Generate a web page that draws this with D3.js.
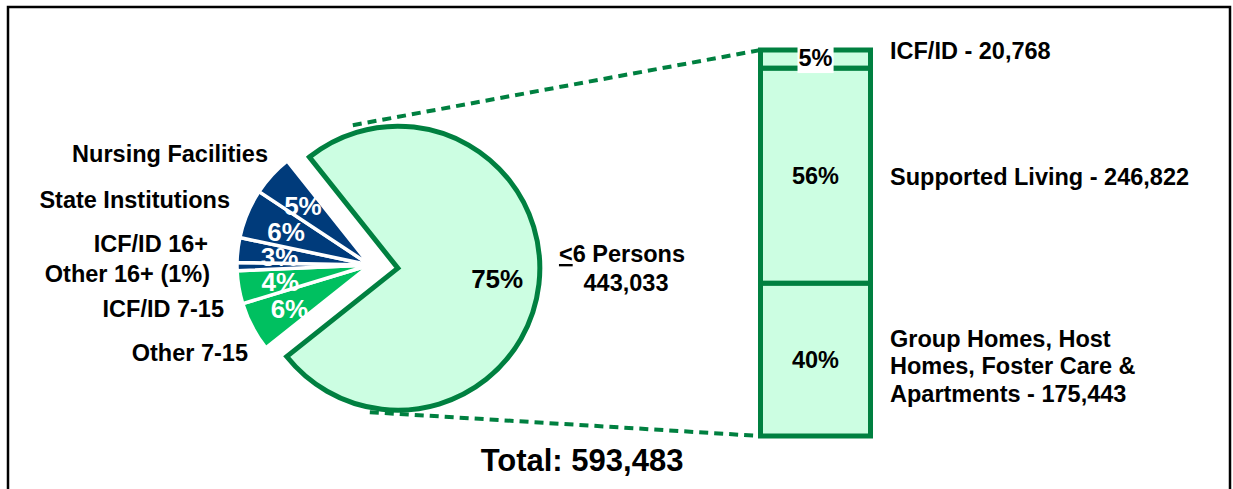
<!DOCTYPE html>
<html>
<head>
<meta charset="utf-8">
<script src="https://cdn.jsdelivr.net/npm/d3@7"></script>
<style>
body { margin: 0; background: #fff; }
text { font-family: "Liberation Sans", Arial, sans-serif; font-weight: bold; }
</style>
</head>
<body>
<div id="chart"></div>
<script>
var width = 1233;
var height = 489;

// pie data, clockwise starting with the big slice
var sliceNames = ["<6 Persons", "Other 7-15", "ICF/ID 7-15", "Other 16+", "ICF/ID 16+", "State Institutions", "Nursing Facilities"];
var sliceLabels = ["", "Other 7-15", "ICF/ID 7-15", "Other 16+ (1%)", "ICF/ID 16+", "State Institutions", "Nursing Facilities"];
var slicePct = [75, 6, 4, 1, 3, 6, 5];
var sliceValueText = ["75%", "6%", "4%", "", "3%", "6%", "5%"];

// bar data, bottom to top
var barNames = ["Group Homes, Host|Homes, Foster Care &|Apartments - 175,443", "Supported Living - 246,822", "ICF/ID - 20,768"];
var barValues = [175443, 246822, 20768];
var barPct = ["40%", "56%", "5%"];
var totalText = "Total: 593,483";
var bigCount = "443,033";

var navy = "#003b7b", green = "#00c060", mint = "#ccfee2", dark = "#008040";
var sliceColors = [mint, green, green, navy, navy, navy, navy];

var svg = d3.select("#chart").append("svg")
  .attr("width", width)
  .attr("height", height);

// frame
svg.append("rect")
  .attr("x", 8).attr("y", 7)
  .attr("width", 1222).attr("height", 540)
  .attr("fill", "none").attr("stroke", "#000").attr("stroke-width", 2.5);

var cx = 370, cy = 265;
var rSmall = 133, rBig = 142, explode = 28;
var start = -38.5 * Math.PI / 180;

var pie = d3.pie().sort(null).startAngle(start).endAngle(start + 2 * Math.PI);
var arcs = pie(slicePct);

var smallArc = d3.arc().innerRadius(0).outerRadius(rSmall);
var bigArc = d3.arc().innerRadius(0).outerRadius(rBig);
var labelArc = d3.arc().innerRadius(91).outerRadius(91);

var big = arcs[0];
var bigMid = (big.startAngle + big.endAngle) / 2;
var bx = cx + explode * Math.sin(bigMid);
var by = cy - explode * Math.cos(bigMid);

// bar scale
var barTop = 50, barBottom = 436, barLeft = 760.5, barW = 110;
var y = d3.scaleLinear().domain([0, d3.sum(barValues)]).range([barBottom, barTop]);
var cum = d3.cumsum(barValues);
var segs = barValues.map(function(v, i) {
  return {v: v, y0: y(cum[i] - v), y1: y(cum[i]), i: i};
});

// series lines
var links = [
  [[bx - 45, by - rBig - 1], [barLeft, barTop]],
  [[bx - 28, by + rBig + 2], [barLeft, barBottom]]
];
svg.selectAll(".link").data(links).enter().append("line")
  .attr("x1", function(d) { return d[0][0]; })
  .attr("y1", function(d) { return d[0][1]; })
  .attr("x2", function(d) { return d[1][0]; })
  .attr("y2", function(d) { return d[1][1]; })
  .attr("stroke", dark).attr("stroke-width", 4)
  .attr("stroke-dasharray", "9,6");

// small slices
var g = svg.append("g").attr("transform", "translate(" + cx + "," + cy + ")");
g.selectAll(".small").data(arcs.slice(1)).enter().append("path")
  .attr("d", smallArc)
  .attr("fill", function(d) { return sliceColors[d.index]; })
  .attr("stroke", "#fff").attr("stroke-width", 3.5).attr("stroke-linejoin", "round");

g.selectAll(".slabel").data(arcs.slice(1)).enter().append("text")
  .attr("x", function(d) { return labelArc.centroid(d)[0]; })
  .attr("y", function(d) { return labelArc.centroid(d)[1] + 11; })
  .attr("text-anchor", "middle")
  .attr("fill", "#fff").style("font-size", "26px")
  .text(function(d) { return sliceValueText[d.index]; });

// big slice
var gb = svg.append("g").attr("transform", "translate(" + bx + "," + by + ")");
gb.append("path")
  .attr("d", bigArc(big))
  .attr("fill", mint).attr("stroke", dark).attr("stroke-width", 5);
var bigLabel = d3.arc().innerRadius(100).outerRadius(100).centroid(big);
gb.append("text")
  .attr("x", bigLabel[0]).attr("y", bigLabel[1] + 9)
  .attr("text-anchor", "middle").style("font-size", "26px")
  .text(sliceValueText[0]);

var pl = svg.append("text").attr("x", 622).attr("y", 262)
  .attr("text-anchor", "middle").style("font-size", "23.5px");
pl.append("tspan").style("text-decoration", "underline").text("<");
pl.append("tspan").text("6 Persons");
svg.append("text").attr("x", 626).attr("y", 291)
  .attr("text-anchor", "middle").style("font-size", "23.5px")
  .text(bigCount);

// outer labels of the small slices
var leftLabelPos = [null, [248, 352], [224, 308], [210, 273], [208, 243], [230, 199], [268, 153]];
svg.selectAll(".olabel").data(arcs.slice(1)).enter().append("text")
  .attr("x", function(d) { return leftLabelPos[d.index][0]; })
  .attr("y", function(d) { return leftLabelPos[d.index][1] + 8.5; })
  .attr("text-anchor", "end").style("font-size", "23.5px")
  .text(function(d) { return sliceLabels[d.index]; });

// bar
svg.selectAll(".seg").data(segs).enter().append("rect")
  .attr("x", barLeft)
  .attr("y", function(d) { return d.y1; })
  .attr("width", barW)
  .attr("height", function(d) { return d.y0 - d.y1; })
  .attr("fill", mint).attr("stroke", dark).attr("stroke-width", 5);

var segText = svg.selectAll(".segl").data(segs).enter().append("g");
segText.append("rect").attr("class", "bg").attr("fill", "#fff");
segText.append("text")
  .attr("x", barLeft + barW / 2)
  .attr("y", function(d) { return (d.y0 + d.y1) / 2 + 8.5; })
  .attr("text-anchor", "middle").style("font-size", "23.5px")
  .text(function(d) { return barPct[d.i]; });
// white box behind the small top label only
segText.each(function(d) {
  if (d.v / d3.sum(barValues) > 0.1) return;
  var t = d3.select(this).select("text");
  t.attr("y", (d.y0 + d.y1) / 2 + 7);
  var b = t.node().getBBox();
  d3.select(this).select(".bg")
    .attr("x", b.x - 1).attr("y", b.y - 1)
    .attr("width", b.width + 2).attr("height", b.height + 3);
});

// bar category labels
var labelShift = [6, 1, -9];
var lineH = 27.5;
svg.selectAll(".blabel").data(segs).enter().append("text")
  .attr("x", 890)
  .style("font-size", "23.5px")
  .each(function(d) {
    var lines = barNames[d.i].split("|");
    var mid = (d.y0 + d.y1) / 2 + labelShift[d.i];
    var t = d3.select(this);
    lines.forEach(function(s, k) {
      t.append("tspan").attr("x", 890)
        .attr("y", mid + 8.5 + (k - (lines.length - 1) / 2) * lineH)
        .text(s);
    });
  });

svg.append("text")
  .attr("x", 582).attr("y", 471)
  .attr("text-anchor", "middle").style("font-size", "31px")
  .text(totalText);
</script>
</body>
</html>
